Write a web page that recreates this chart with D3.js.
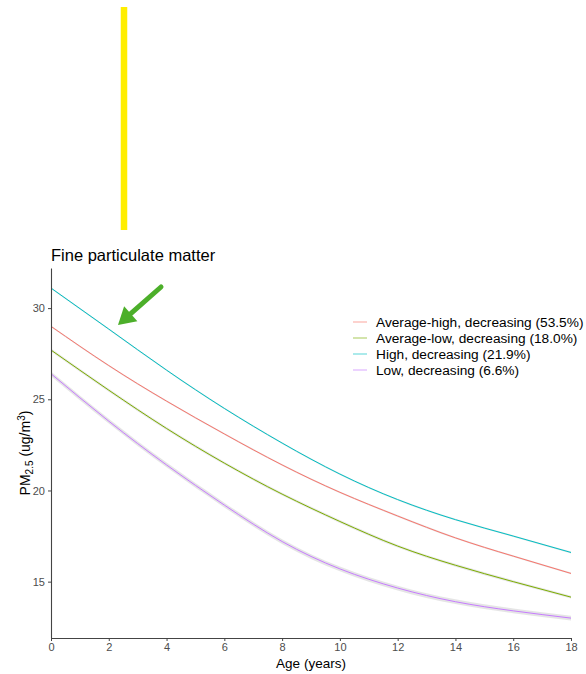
<!DOCTYPE html>
<html>
<head>
<meta charset="utf-8">
<script src="https://cdnjs.cloudflare.com/ajax/libs/d3/7.8.5/d3.min.js"></script>
<style>
  body { margin: 0; background: #fff; }
  svg { display: block; font-family: "Liberation Sans", Arial, sans-serif; }
</style>
</head>
<body>
<div id="chart"></div>
<script>
// data
const ages = [0, 2, 4, 6, 8, 10, 12, 14, 16, 18];
const groups = [
  "Average-high, decreasing (53.5%)",
  "Average-low, decreasing (18.0%)",
  "High, decreasing (21.9%)",
  "Low, decreasing (6.6%)"
];
const avgHigh = [29.0, 26.85, 24.9, 23.1, 21.4, 19.9, 18.6, 17.4, 16.4, 15.45];
const avgLow  = [27.7, 25.5, 23.4, 21.5, 19.8, 18.3, 16.95, 15.9, 15.0, 14.15];
const high    = [31.1, 28.85, 26.6, 24.5, 22.6, 20.9, 19.5, 18.4, 17.5, 16.6];
const low     = [26.4, 23.8, 21.4, 19.2, 17.2, 15.7, 14.65, 13.9, 13.4, 13.0];
const ciHalf  = [0.05, 0.08, 0.05, 0.13];
const colors  = ["#F8766D", "#7CAE00", "#00BFC4", "#C77CFF"];
const xTicks = [0, 2, 4, 6, 8, 10, 12, 14, 16, 18];
const yTicks = [15, 20, 25, 30];

const series = [avgHigh, avgLow, high, low];

const W = 586, H = 674;
const margin = { left: 51, right: 15, top: 268, bottom: 36 };

const svg = d3.select("#chart").append("svg")
  .attr("width", W).attr("height", H);

const x = d3.scaleLinear().domain([0, 18]).range([margin.left, 571]);
const y = d3.scaleLinear().domain([11.91, 32.2]).range([638, 268]);

// confidence ribbons
const area = d3.area()
  .x((d, i) => x(ages[i]))
  .y0(d => y(d.lo)).y1(d => y(d.hi))
  .curve(d3.curveNatural);
const line = d3.line()
  .x((d, i) => x(ages[i]))
  .y(d => y(d))
  .curve(d3.curveNatural);

series.forEach((s, k) => {
  svg.append("path")
    .datum(s.map(v => ({ lo: v - ciHalf[k], hi: v + ciHalf[k] })))
    .attr("d", area)
    .attr("fill", "#999").attr("fill-opacity", 0.25);
});
series.forEach((s, k) => {
  svg.append("path")
    .datum(s)
    .attr("d", line)
    .attr("fill", "none")
    .attr("stroke", colors[k])
    .attr("stroke-width", 1);
});

// axes
const xAxis = svg.append("g")
  .attr("transform", `translate(0,638)`)
  .call(d3.axisBottom(x).tickValues(xTicks).tickSize(3).tickPadding(2).tickSizeOuter(0));
const yAxis = svg.append("g")
  .attr("transform", `translate(${margin.left},0)`)
  .call(d3.axisLeft(y).tickValues(yTicks).tickSize(3).tickSizeOuter(0));
[xAxis, yAxis].forEach(g => {
  g.select(".domain").attr("stroke", "#444").attr("stroke-width", 1.1);
  g.selectAll(".tick line").attr("stroke", "#444");
  g.selectAll(".tick text").attr("fill", "#4d4d4d").style("font-size", "11px")
    .style("font-family", "Liberation Sans, Arial, sans-serif");
});

// titles
svg.append("text")
  .attr("x", 51).attr("y", 261)
  .style("font-size", "16.5px").attr("fill", "#000")
  .text("Fine particulate matter");

svg.append("text")
  .attr("x", 311).attr("y", 668)
  .attr("text-anchor", "middle")
  .style("font-size", "13.5px")
  .text("Age (years)");

const yl = svg.append("text")
  .attr("transform", "translate(30,453) rotate(-90)")
  .attr("text-anchor", "middle")
  .style("font-size", "14px");
yl.append("tspan").text("PM");
yl.append("tspan").attr("dy", 3).style("font-size", "10px").text("2.5");
yl.append("tspan").attr("dy", -3).text(" (ug/m");
yl.append("tspan").attr("dy", -5).style("font-size", "10px").text("3");
yl.append("tspan").attr("dy", 5).text(")");

// legend
const legend = svg.append("g");
groups.forEach((g, k) => {
  const ly = 322 + k * 16;
  legend.append("line")
    .attr("x1", 353).attr("x2", 367).attr("y1", ly).attr("y2", ly)
    .attr("stroke", colors[k]).attr("stroke-opacity", 0.6).attr("stroke-width", 1.1);
  legend.append("text")
    .attr("x", 376).attr("y", ly).attr("dy", "0.35em")
    .style("font-size", "13.7px").attr("fill", "#000")
    .text(g);
});

// annotations
svg.append("line")
  .attr("x1", 124).attr("x2", 124).attr("y1", 7).attr("y2", 230)
  .attr("stroke", "#FFEE00").attr("stroke-width", 6.5);

const tail = [161, 287], tip = [118, 325];
const ang = Math.atan2(tip[1] - tail[1], tip[0] - tail[0]);
const headLen = 17, headW = 10;
const bx = tip[0] - headLen * Math.cos(ang), by = tip[1] - headLen * Math.sin(ang);
svg.append("line")
  .attr("x1", tail[0]).attr("y1", tail[1]).attr("x2", bx).attr("y2", by)
  .attr("stroke", "#4CAF2A").attr("stroke-width", 5).attr("stroke-linecap", "round");
svg.append("path")
  .attr("d", d3.line()([
    tip,
    [bx + headW * Math.sin(ang), by - headW * Math.cos(ang)],
    [bx - headW * Math.sin(ang), by + headW * Math.cos(ang)]
  ]) + "Z")
  .attr("fill", "#4CAF2A");
</script>
</body>
</html>
